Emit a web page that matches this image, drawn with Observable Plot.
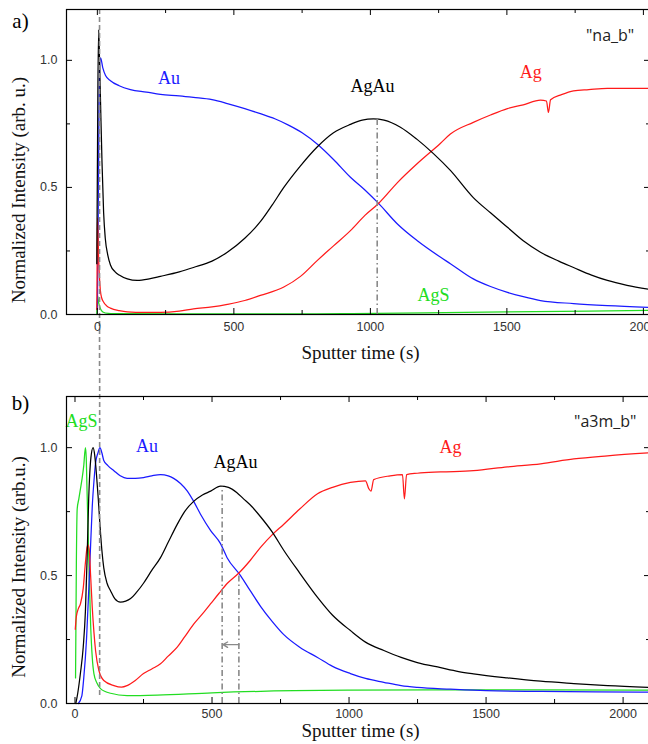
<!DOCTYPE html>
<html><head><meta charset="utf-8">
<script src="https://cdn.jsdelivr.net/npm/d3@7"></script>
<script src="https://cdn.jsdelivr.net/npm/@observablehq/plot@0.6"></script>
<style>
html,body{margin:0;padding:0;background:#fff;overflow:hidden}
#fig{width:652px}
#fig svg{display:block;max-width:none}
</style></head><body><div id="fig"></div>
<script>
// ---------- Panel a) "na_b" ----------
const aAuT = [0, 3, 6, 9, 12, 20, 30, 48, 80, 121, 180, 231, 300, 352, 420, 476, 540, 597, 650, 700, 750, 806, 865, 927, 980, 1030, 1100, 1172, 1256, 1293, 1377, 1440, 1502, 1560, 1623, 1744, 1868, 2026];
const aAuV = [0.02, 0.35, 0.8, 1.0, 1.01, 0.97, 0.94, 0.92, 0.90, 0.885, 0.875, 0.866, 0.86, 0.854, 0.845, 0.83, 0.81, 0.79, 0.77, 0.745, 0.715, 0.67, 0.61, 0.54, 0.49, 0.437, 0.355, 0.29, 0.226, 0.20, 0.14, 0.11, 0.087, 0.07, 0.055, 0.043, 0.035, 0.028];

const aAgAuT = [-2, 2, 5, 8, 12, 17, 23, 29, 38, 48, 65, 80, 110, 146, 190, 231, 300, 352, 420, 476, 540, 597, 640, 683, 744, 806, 865, 927, 970, 1011, 1050, 1110, 1170, 1231, 1293, 1377, 1440, 1502, 1560, 1623, 1690, 1744, 1810, 1868, 1940, 2026];
const aAgAuV = [0.2, 0.9, 1.12, 1.0, 0.82, 0.6, 0.4, 0.3, 0.235, 0.195, 0.168, 0.155, 0.14, 0.134, 0.14, 0.15, 0.168, 0.185, 0.21, 0.245, 0.30, 0.365, 0.43, 0.50, 0.585, 0.66, 0.715, 0.748, 0.765, 0.77, 0.765, 0.737, 0.69, 0.633, 0.567, 0.46, 0.40, 0.343, 0.29, 0.245, 0.21, 0.185, 0.155, 0.134, 0.115, 0.098];

const aAgT = [-2, -0.5, 0.5, 5, 11, 16, 22, 35, 48, 80, 110, 170, 231, 300, 352, 420, 476, 540, 597, 683, 744, 806, 865, 927, 980, 1030, 1100, 1172, 1256, 1293, 1377, 1440, 1502, 1560, 1623, 1645, 1652, 1660, 1700, 1744, 1800, 1868, 1940, 2026];
const aAgV = [0.02, 0.25, 0.38, 0.21, 0.095, 0.065, 0.05, 0.033, 0.025, 0.015, 0.01, 0.008, 0.008, 0.013, 0.022, 0.03, 0.04, 0.055, 0.075, 0.108, 0.15, 0.213, 0.27, 0.33, 0.39, 0.437, 0.52, 0.594, 0.673, 0.71, 0.756, 0.785, 0.81, 0.825, 0.843, 0.84, 0.795, 0.845, 0.865, 0.88, 0.885, 0.89, 0.89, 0.89];

const aAgST = [-2, 0.5, 5, 11, 20, 40, 60, 300, 600, 900, 1200, 1500, 1800, 2026];
const aAgSV = [0.0, 0.075, 0.045, 0.024, 0.01, 0.004, 0.003, 0.002, 0.002, 0.003, 0.006, 0.01, 0.013, 0.016];

// ---------- Panel b) "a3m_b" ----------
const bAgST = [2, 5, 8, 14, 20, 26, 32, 38, 41, 44, 50, 57, 63, 69, 80, 93, 110, 130, 190, 300, 500, 800, 1000, 1300, 1700, 2100];
const bAgSV = [0.10, 0.55, 0.76, 0.80, 0.84, 0.88, 0.93, 1.0, 0.96, 0.83, 0.58, 0.31, 0.18, 0.117, 0.08, 0.058, 0.047, 0.04, 0.031, 0.033, 0.042, 0.05, 0.052, 0.053, 0.053, 0.052];

const bAgAuT = [3, 10, 20, 30, 38, 44, 50, 58, 66, 72, 78, 85, 91, 98, 105, 117, 130, 145, 166, 185, 203, 225, 250, 280, 312, 340, 373, 400, 433, 465, 495, 531, 560, 590, 615, 645, 677, 720, 761, 820, 885, 940, 1005, 1060, 1127, 1190, 1249, 1334, 1400, 1454, 1578, 1699, 1820, 1943, 2100];
const bAgAuV = [0.0, 0.04, 0.12, 0.22, 0.36, 0.56, 0.80, 0.96, 1.0, 0.97, 0.9, 0.8, 0.70, 0.6, 0.53, 0.47, 0.44, 0.41, 0.396, 0.40, 0.41, 0.435, 0.47, 0.52, 0.57, 0.63, 0.70, 0.75, 0.79, 0.815, 0.83, 0.85, 0.845, 0.825, 0.80, 0.77, 0.73, 0.67, 0.60, 0.51, 0.415, 0.345, 0.285, 0.24, 0.207, 0.18, 0.16, 0.14, 0.125, 0.116, 0.10, 0.087, 0.078, 0.07, 0.063];

const bAuT = [12, 25, 32, 42, 50, 57, 63, 70, 75, 84, 91, 98, 105, 120, 142, 165, 190, 220, 250, 280, 312, 340, 360, 385, 410, 433, 458, 495, 531, 555, 604, 640, 677, 720, 761, 820, 885, 940, 1005, 1060, 1127, 1190, 1249, 1370, 1500, 1700, 1900, 2100];
const bAuV = [0, 0.03, 0.1, 0.25, 0.44, 0.62, 0.77, 0.88, 0.94, 0.98, 1.0, 0.98, 0.95, 0.93, 0.91, 0.89, 0.88, 0.88, 0.883, 0.89, 0.895, 0.89, 0.88, 0.86, 0.83, 0.79, 0.74, 0.676, 0.625, 0.57, 0.50, 0.44, 0.38, 0.32, 0.27, 0.22, 0.18, 0.145, 0.117, 0.098, 0.083, 0.07, 0.063, 0.056, 0.05, 0.047, 0.045, 0.044];

const bAgT = [1, 5, 12, 20, 30, 38, 44, 47, 52, 57, 63, 69, 75, 87, 105, 142, 170, 190, 220, 250, 280, 312, 340, 373, 400, 433, 465, 495, 525, 556, 598, 640, 677, 720, 761, 820, 885, 940, 1005, 1060, 1072, 1080, 1090, 1150, 1195, 1202, 1210, 1249, 1334, 1454, 1578, 1699, 1820, 1943, 2100];
const bAgV = [0.29, 0.34, 0.37, 0.39, 0.45, 0.55, 0.61, 0.62, 0.6, 0.5, 0.375, 0.28, 0.207, 0.13, 0.09, 0.07, 0.064, 0.07, 0.09, 0.117, 0.135, 0.155, 0.185, 0.22, 0.26, 0.31, 0.35, 0.39, 0.43, 0.47, 0.51, 0.56, 0.61, 0.66, 0.70, 0.76, 0.82, 0.845, 0.864, 0.87, 0.84, 0.83, 0.875, 0.89, 0.895, 0.80, 0.895, 0.90, 0.905, 0.91, 0.925, 0.937, 0.956, 0.968, 0.98];

// guide lines (data coordinates)
const aGuide = {dashT: 8, peakT: 1025, peakV: 0.77};
const bGuide = {dashT: 90, peakT: 537, peakV: 0.845, crossT: 598, crossV: 0.51, arrowV: 0.23, arrowTo: 540};

// series labels
const labelsA = [
  {text: "Au", t: 262, v: 0.93, s: "Au"},
  {text: "AgAu", t: 1008, v: 0.90, s: "AgAu"},
  {text: "Ag", t: 1587, v: 0.953, s: "Ag"},
  {text: "AgS", t: 1231, v: 0.075, s: "AgS"}
];
const labelsB = [
  {text: "AgS", t: 24, v: 1.105, s: "AgS"},
  {text: "Au", t: 263, v: 1.004, s: "Au"},
  {text: "AgAu", t: 586, v: 0.945, s: "AgAu"},
  {text: "Ag", t: 1370, v: 1.002, s: "Ag"}
];
const sampleA = {text: '"na_b"', t: 1878, v: 1.098};
const sampleB = {text: '"a3m_b"', t: 1935, v: 1.10};

const xMajor = [0, 500, 1000, 1500, 2000];
const xMinor = [250, 750, 1250, 1750];
const yMajor = [0, 0.5, 1.0];
const yMinor = [0.25, 0.75];

const COLORS = {Au: "#1a1aff", Ag: "#ff1a1a", AgAu: "#000000", AgS: "#22dd22"};
const serif = "'Liberation Serif', 'Times New Roman', serif";
const sans = "'Liberation Sans', Arial, sans-serif";
const quoteFont = "'Open Sans', 'Noto Sans', sans-serif";

function zip(t, v) { return t.map((d, i) => ({t: d, v: v[i]})); }

function panel(o) {
  const W = 652, ml = 66, mr = 2;
  const innerW = W - ml - mr, innerH = o.height - o.mt - o.mb;
  const grey = "#8a8a8a";
  const marks = [
    ...o.lines.map(([data, color]) => Plot.line(data, {x: "t", y: "v", stroke: color, strokeWidth: 1.25, curve: "monotone-x"})),
    ...o.guides(grey, innerH),
    ...o.labels.map(l => Plot.text([l], {x: "t", y: "v", text: "text", fill: COLORS[l.s], fontSize: 18, fontFamily: serif})),
    Plot.text([o.sample], {x: "t", y: "v", text: "text", fill: "#222", fontSize: 16, fontFamily: quoteFont}),
    Plot.tickX(xMajor, {x: d => d, insetBottom: innerH - 6, stroke: "#000"}),
    Plot.tickX(xMajor, {x: d => d, insetTop: innerH - 6, stroke: "#000"}),
    Plot.tickX(xMinor, {x: d => d, insetBottom: innerH - 4, stroke: "#000"}),
    Plot.tickX(xMinor, {x: d => d, insetTop: innerH - 4, stroke: "#000"}),
    Plot.tickY(yMajor, {y: d => d, insetRight: innerW - 6, stroke: "#000"}),
    Plot.tickY(yMajor, {y: d => d, insetLeft: innerW - 6, stroke: "#000"}),
    Plot.tickY(yMinor, {y: d => d, insetRight: innerW - 4, stroke: "#000"}),
    Plot.tickY(yMinor, {y: d => d, insetLeft: innerW - 4, stroke: "#000"}),
    Plot.axisX(xMajor, {tickSize: 0, tickPadding: o.xPad, fontSize: 12.5, fontFamily: sans, fill: "#333", tickFormat: d => String(d), label: null}),
    Plot.axisY(yMajor, {tickSize: 0, tickPadding: 9, fontSize: 12.5, fontFamily: sans, fill: "#333", tickFormat: d3.format(".1f"), label: null}),
    Plot.frame({stroke: "#000", strokeWidth: 1.2}),
    Plot.text([o.tag], {frameAnchor: "top-left", textAnchor: "middle", lineAnchor: "middle", dx: -46, dy: o.tagDy, fontSize: 21, fontFamily: serif, fill: "#000"}),
    Plot.text([o.yTitle], {frameAnchor: "left", textAnchor: "middle", lineAnchor: "middle", rotate: -90, dx: -48, dy: o.yTitleDy, fontSize: 19, fontFamily: serif, fill: "#111"}),
    Plot.text(["Sputter time (s)"], {frameAnchor: "bottom", textAnchor: "middle", lineAnchor: "middle", dx: 2, dy: o.xTitleDy, fontSize: 19, fontFamily: serif, fill: "#111"})
  ];
  return Plot.plot({
    width: W, height: o.height,
    marginLeft: ml, marginRight: mr, marginTop: o.mt, marginBottom: o.mb,
    x: {domain: o.xDomain}, y: {domain: [0, 1.2]},
    style: {background: "#fff", maxWidth: "none"},
    marks
  });
}

const fig = document.getElementById("fig");

fig.append(panel({
  height: 370, mt: 9, mb: 56, xDomain: [-113, 2026], xPad: 8,
  lines: [[zip(aAgST, aAgSV), COLORS.AgS], [zip(aAuT, aAuV), COLORS.Au], [zip(aAgT, aAgV), COLORS.Ag], [zip(aAgAuT, aAgAuV), COLORS.AgAu]],
  guides: (grey, innerH) => [
    Plot.ruleX([aGuide.dashT], {x: d => d, y1: 1.2, y2: -56 / innerH * 1.2, stroke: grey, strokeWidth: 1.6, strokeDasharray: "5,3"}),
    Plot.ruleX([aGuide.peakT], {x: d => d, y1: 0, y2: aGuide.peakV, stroke: grey, strokeWidth: 1.6, strokeDasharray: "6,3,1.5,3"})
  ],
  labels: labelsA, sample: sampleA,
  tag: "a)", tagDy: 12,
  yTitle: "Normalized Intensity (arb. u.)", yTitleDy: 28, xTitleDy: 38.5
}));

fig.append(panel({
  height: 374, mt: 26, mb: 41, xDomain: [-31, 2100], xPad: 6,
  lines: [[zip(bAgST, bAgSV), COLORS.AgS], [zip(bAuT, bAuV), COLORS.Au], [zip(bAgT, bAgV), COLORS.Ag], [zip(bAgAuT, bAgAuV), COLORS.AgAu]],
  guides: (grey, innerH) => [
    Plot.ruleX([bGuide.dashT], {x: d => d, y1: 1.2 + 26 / innerH * 1.2, y2: 0.02, stroke: grey, strokeWidth: 1.6, strokeDasharray: "5,3"}),
    Plot.ruleX([bGuide.peakT], {x: d => d, y1: 0, y2: bGuide.peakV, stroke: grey, strokeWidth: 1.6, strokeDasharray: "6,3,1.5,3"}),
    Plot.ruleX([bGuide.crossT], {x: d => d, y1: 0, y2: bGuide.crossV, stroke: grey, strokeWidth: 1.6, strokeDasharray: "6,3,1.5,3"}),
    Plot.arrow([bGuide], {x1: "crossT", x2: "arrowTo", y1: "arrowV", y2: "arrowV", stroke: grey, strokeWidth: 1.4, headLength: 7})
  ],
  labels: labelsB, sample: sampleB,
  tag: "b)", tagDy: 7,
  yTitle: "Normalized Intensity (arb.u.)", yTitleDy: 17, xTitleDy: 27.5
}));
</script></body></html>
